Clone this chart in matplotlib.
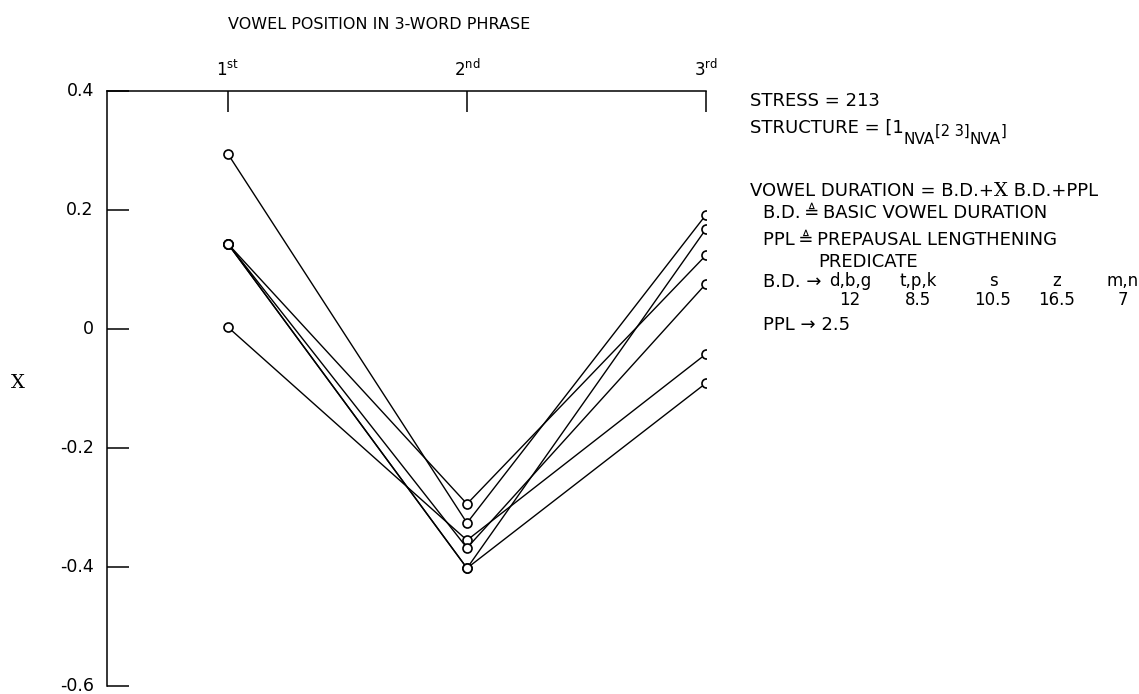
import matplotlib
matplotlib.use("Agg")
import matplotlib.pyplot as plt

plt.rcParams['font.family'] = ['DejaVu Sans']
plt.rcParams['mathtext.fontset'] = 'dejavusans'

# Vowel positions in the phrase and their top-axis labels
positions = [1, 2, 3]
position_labels = [r'1$^{\mathrm{st}}$', r'2$^{\mathrm{nd}}$', r'3$^{\mathrm{rd}}$']

# Normalised deviation (Ⅹ) for each measured phrase, by vowel position
phrase_a = [0.143, -0.294, 0.124]
phrase_b = [0.294, -0.326, 0.192]
phrase_c = [0.003, -0.355, -0.042]
phrase_d = [0.143, -0.368, 0.076]
phrase_e = [0.143, -0.402, 0.168]
phrase_f = [0.143, -0.402, -0.091]
phrases = [phrase_a, phrase_b, phrase_c, phrase_d, phrase_e, phrase_f]

y_ticks = [0.4, 0.2, 0.0, -0.2, -0.4, -0.6]
y_tick_labels = ['0.4', '0.2', '0', '-0.2', '-0.4', '-0.6']

# Basic durations by consonant class
consonant_classes = ['d,b,g', 't,p,k', 's', 'z', 'm,n']
basic_durations = ['12', '8.5', '10.5', '16.5', '7']

W, H = 1139, 694
fig = plt.figure(figsize=(W / 100, H / 100), dpi=100)
ax = fig.add_axes([107 / W, 8 / H, 599 / W, 595 / H])

for vals in phrases:
    ax.plot(positions, vals, color='black', lw=1.0, zorder=2)
for vals in phrases:
    ax.plot(positions, vals, linestyle='none', marker='o', ms=6.5,
            mfc='white', mec='black', mew=1.2, zorder=3)

ax.set_xlim(1 - 121 / 239, 3)
ax.set_ylim(-0.6, 0.4)

ax.spines['right'].set_visible(False)
ax.spines['bottom'].set_visible(False)
for s in ('left', 'top'):
    ax.spines[s].set_linewidth(1.1)

ax.xaxis.tick_top()
ax.set_xticks(positions)
ax.set_xticklabels(position_labels, fontsize=12)
ax.tick_params(axis='x', direction='in', length=15, width=1.1, pad=8)

ax.set_yticks(y_ticks)
ax.set_yticklabels(y_tick_labels, fontsize=12.5, va='center')
ax.tick_params(axis='y', direction='in', length=16, width=1.1, pad=9.5)

ax.set_ylabel('Ⅹ', rotation=0, fontsize=14, va='center', ha='center',
              family='DejaVu Serif')
ax.yaxis.set_label_coords(-0.149, 0.509)

FS = 13


def px_text(x, y, s, **kw):
    kw.setdefault('fontsize', FS)
    kw.setdefault('va', 'baseline')
    return fig.text(x / W, 1 - y / H, s, **kw)


def chain(prev, s, dy=0.0, **kw):
    """Place a text piece right after the previous one, shifted dy points."""
    kw.setdefault('fontsize', FS)
    return ax.annotate(s, xy=(1, 0), xycoords=prev, xytext=(0, dy),
                       textcoords='offset points', ha='left', va='bottom',
                       annotation_clip=False, **kw)


px_text(228, 29, 'VOWEL POSITION IN 3-WORD PHRASE', fontsize=11.5)

px_text(750, 106, 'STRESS = 213', va='baseline')

s0 = px_text(750, 137, 'STRUCTURE = [1', va='bottom')
s1 = chain(s0, 'NVA', dy=-7.5, fontsize=11)
s2 = chain(s1, '[2 3]', dy=6.5, fontsize=10.5)
s3 = chain(s2, 'NVA', dy=-6.5, fontsize=11)
chain(s3, ']', dy=6.5, fontsize=10.5)

v0 = px_text(750, 200, 'VOWEL DURATION = B.D.+', va='bottom')
v1 = chain(v0, 'Ⅹ', dy=0, family='DejaVu Serif', fontsize=14)
chain(v1, ' B.D.+PPL', dy=0)

px_text(763, 218, 'B.D.\u2009≜\u2009BASIC VOWEL DURATION')
px_text(763, 245, 'PPL\u2009≜\u2009PREPAUSAL LENGTHENING')
px_text(818, 267, 'PREDICATE')

class_x = [850, 918, 993, 1057, 1123]
px_text(763, 287, 'B.D. →')
for cx, cls, dur in zip(class_x, consonant_classes, basic_durations):
    px_text(cx, 286, cls, ha='center', fontsize=12)
    px_text(cx, 305, dur, ha='center', fontsize=12)

px_text(763, 330, 'PPL → 2.5')

fig.savefig('out.png', dpi=100)
